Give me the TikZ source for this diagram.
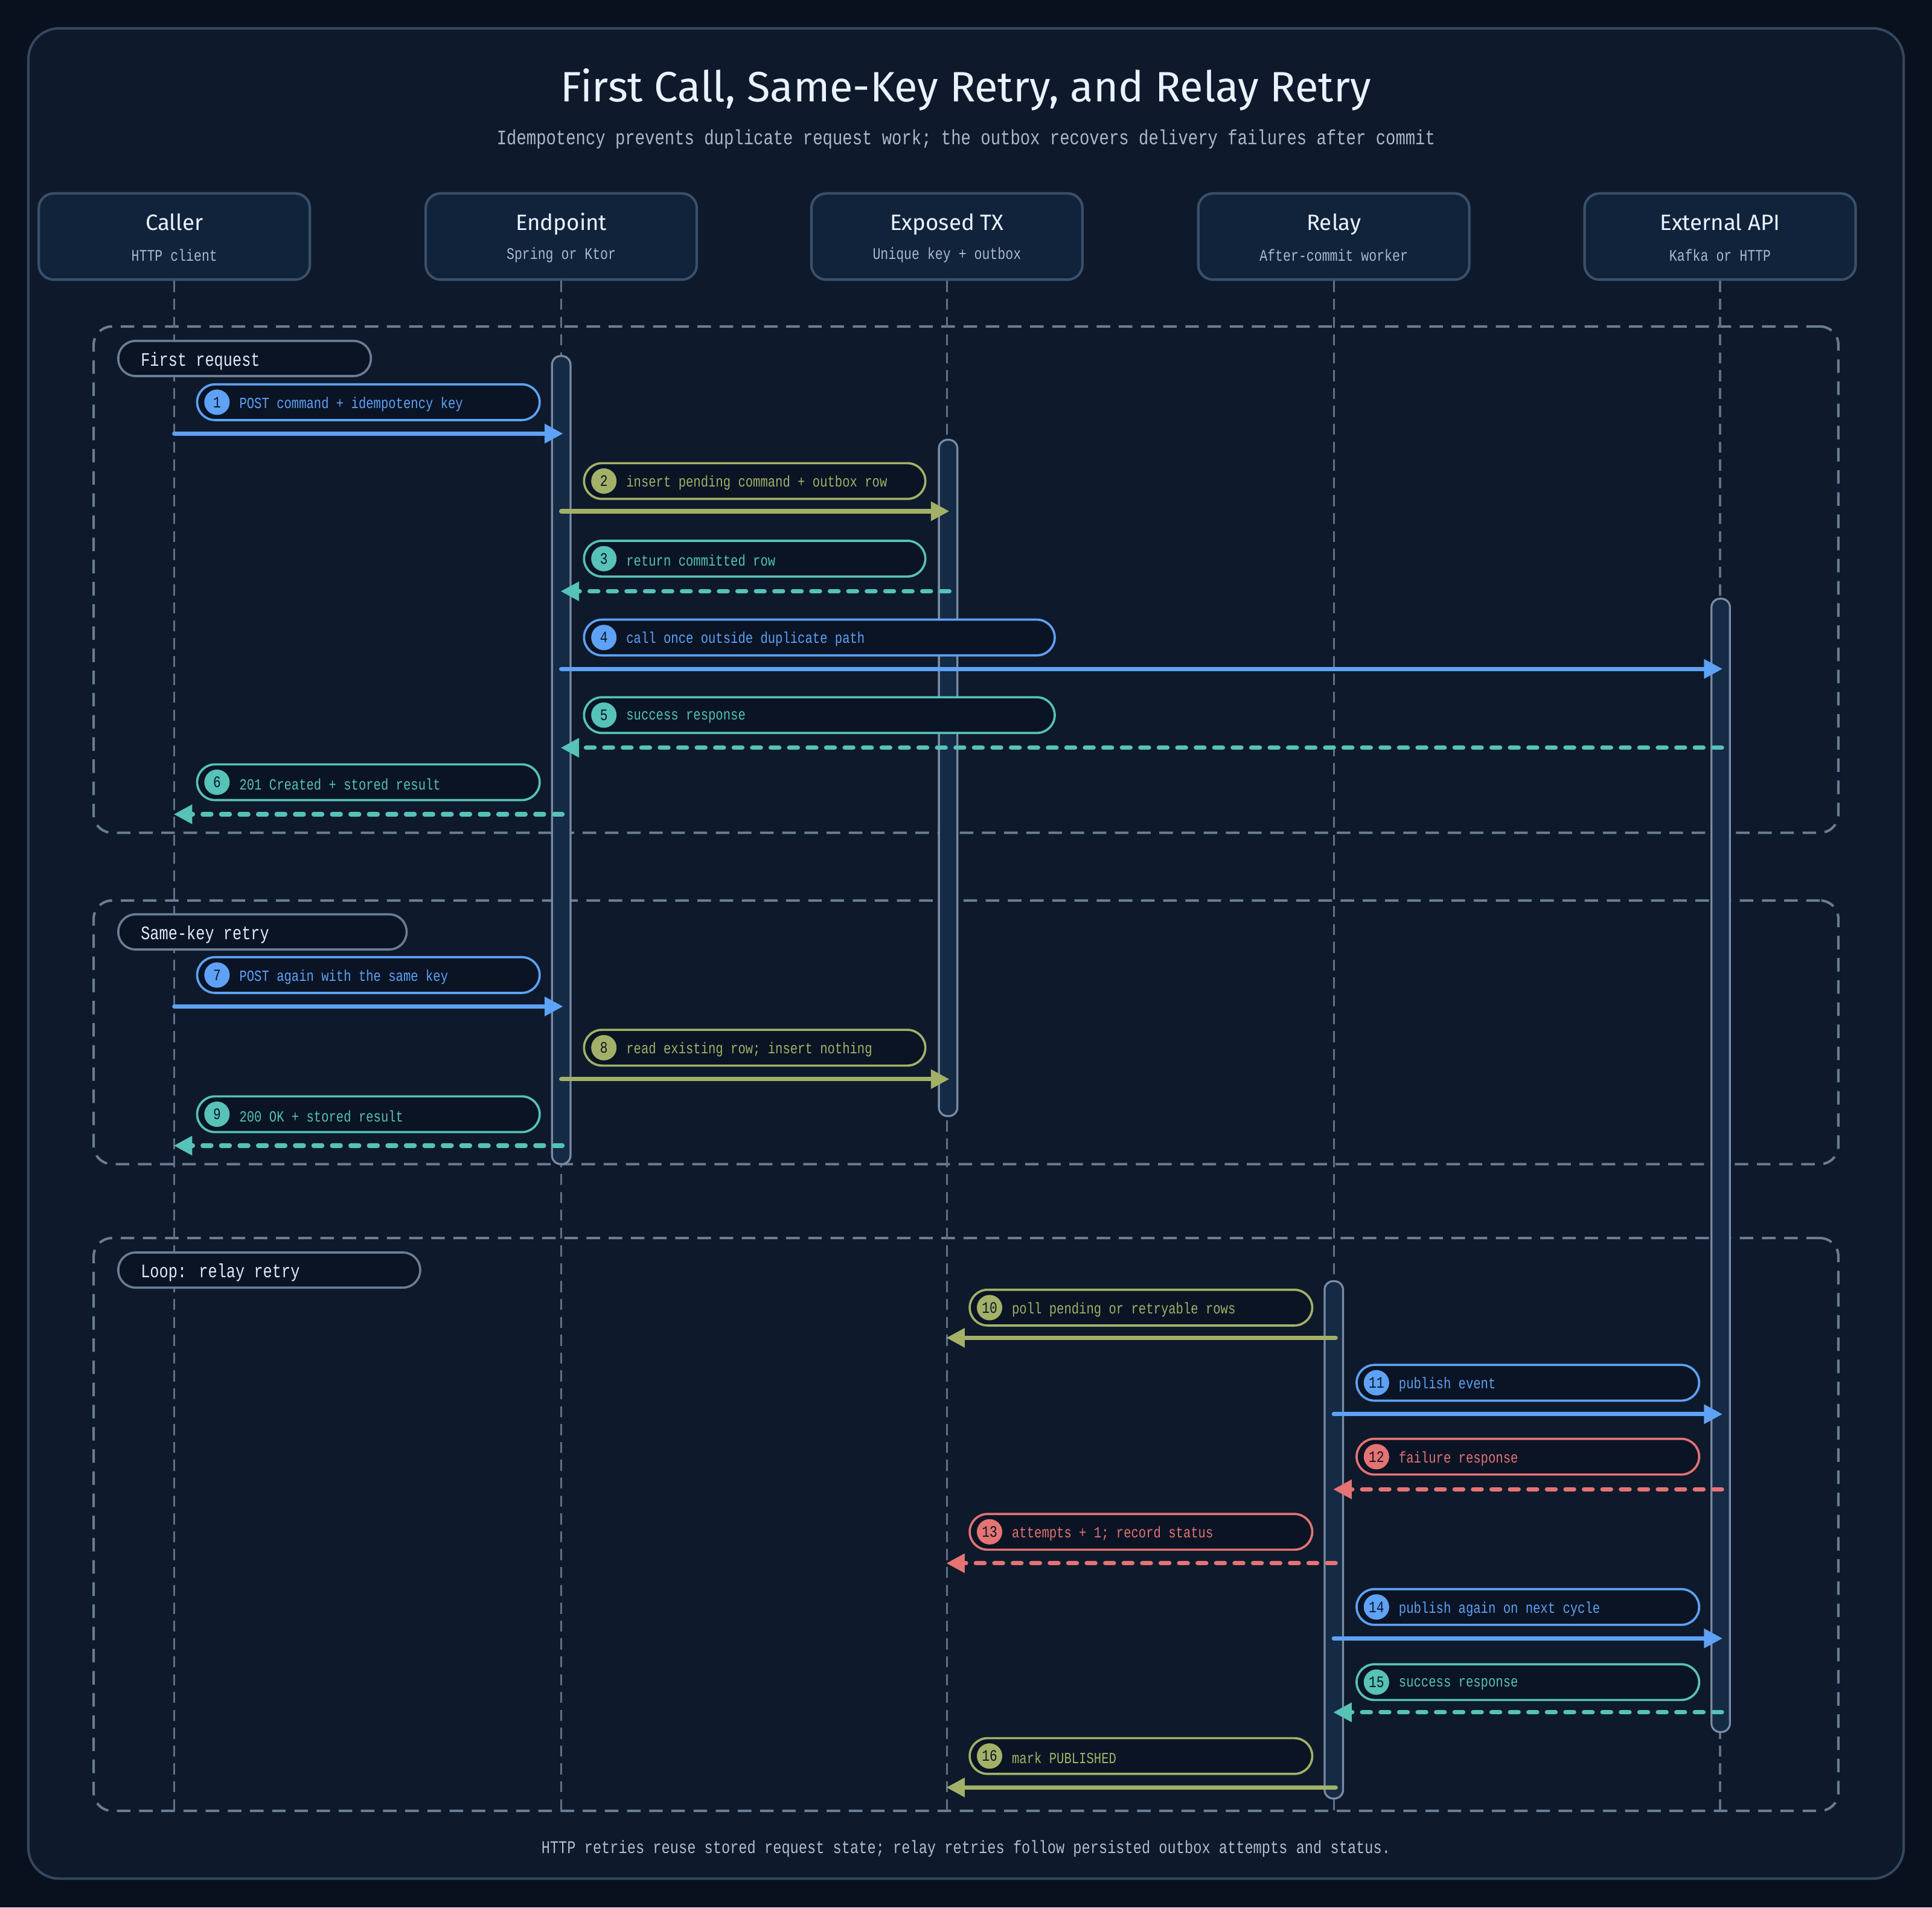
\documentclass[tikz,border=0pt]{standalone}
\usepackage{fontspec}
\setmainfont{Fira Sans}
\newfontfamily\monof{Liberation Mono}[FakeStretch=0.8]
\usetikzlibrary{arrows.meta}
\definecolor{pagebg}{HTML}{09111F}
\definecolor{framefill}{HTML}{0E1A2C}
\definecolor{framestroke}{HTML}{34485F}
\definecolor{partfill}{HTML}{11233A}
\definecolor{partstroke}{HTML}{3A506B}
\definecolor{lifeline}{HTML}{5F7189}
\definecolor{groupline}{HTML}{6A7D94}
\definecolor{pillfill}{HTML}{0A1424}
\definecolor{actfill}{HTML}{142A45}
\definecolor{actstroke}{HTML}{7A8CA3}
\definecolor{cblue}{HTML}{5EA2F7}
\definecolor{colive}{HTML}{A2B167}
\definecolor{cteal}{HTML}{56C2B8}
\definecolor{cred}{HTML}{E57373}
\definecolor{titlecol}{HTML}{EAF2FF}
\definecolor{subcol}{HTML}{A9B8CC}
\definecolor{numcol}{HTML}{0B1526}
\tikzset{
  partbox/.style={draw=partstroke, fill=partfill, line width=2pt, rounded corners=12pt,
    minimum width=220pt, minimum height=70pt, inner sep=0pt},
  partname/.style={text=titlecol, font=\fontsize{18}{20}\selectfont, inner sep=0pt},
  partsub/.style={text=subcol, font=\monof\fontsize{13.2}{15}\selectfont, inner sep=0pt},
  lifel/.style={draw=lifeline, line width=1.6pt, dash pattern=on 9pt off 5.5pt},
  groupbox/.style={draw=groupline, line width=2pt, dash pattern=on 11pt off 7pt, rounded corners=15pt},
  grouplabel/.style={draw=groupline, fill=pillfill, line width=1.8pt, rounded corners=14pt,
    minimum height=28.5pt, inner sep=0pt},
  grouptext/.style={text=titlecol!85!subcol, font=\monof\fontsize{15.5}{17}\selectfont, inner sep=0pt, anchor=west},
  actbar/.style={draw=actstroke, fill=actfill, line width=1.6pt, rounded corners=7pt},
  pill/.style={fill=pillfill, line width=1.8pt, rounded corners=14.5pt, minimum height=29pt, inner sep=0pt},
  numdot/.style={circle, minimum size=20.6pt, inner sep=0pt, text=numcol,
    font=\monof\fontsize{13}{14}\selectfont},
  msgtext/.style={font=\monof\fontsize{12.6}{14}\selectfont, inner sep=0pt, anchor=west},
  solidmsg/.style={line width=3.5pt, line cap=round, -{Triangle[length=15pt,width=15pt]}},
  dashmsg/.style={line width=3.5pt, line cap=round, dash pattern=on 7pt off 8pt, -{Triangle[length=15pt,width=15pt]}},
}
\newcommand{\msglabel}[7]{%
  \node[pill, draw=#5, minimum width=#3pt] (#1) at ({#2+#3/2}, #4) {};
  \node[numdot, fill=#5] (#1n) at ([xshift=17pt]#1.west) {#6};
  \node[msgtext, text=#5] (#1t) at ([xshift=35pt,yshift=-1.5pt]#1.west) {#7};
}
\begin{document}
\begin{tikzpicture}[x=1pt,y=-1pt]
\useasboundingbox (0,0) rectangle (1568,1548.4);
\fill[pagebg] (0,0) rectangle (1568,1548.4);
\node[draw=framestroke, fill=framefill, line width=2pt, rounded corners=25pt,
  minimum width=1522pt, minimum height=1502pt, inner sep=0pt] (frame) at (784,774) {};

% title
\node[text=titlecol, font=\fontsize{34.5}{38}\selectfont, inner sep=0pt] (title) at (784,73)
  {First Call, Same-Key Retry, and Relay Retry};
\node[text=subcol, font=\monof\fontsize{16.7}{19}\selectfont, inner sep=0pt] (subtitle) at (784,113)
  {Idempotency prevents duplicate request work; the outbox recovers delivery failures after commit};

% groups
\node[groupbox, minimum width=1416pt, minimum height=411pt, inner sep=0pt] (g1) at (784,470.5) {};
\node[groupbox, minimum width=1416pt, minimum height=214pt, inner sep=0pt] (g2) at (784,838) {};
\node[groupbox, minimum width=1416pt, minimum height=465pt, inner sep=0pt] (g3) at (784,1237.5) {};

% participants
\foreach \nm/\cx/\ti/\su in {caller/141.5/Caller/HTTP client,
  endpoint/455.5/Endpoint/Spring or Ktor,
  tx/768.5/Exposed TX/Unique key + outbox,
  relay/1082.5/Relay/After-commit worker,
  ext/1396/External API/Kafka or HTTP}{
  \node[partbox] (\nm) at (\cx,192) {};
  \node[partname, anchor=base] (\nm name) at (\cx,187) {\ti};
  \node[partsub] (\nm sub) at (\cx,207) {\su};
  \coordinate (\nm end) at (\cx,1470);
  \draw[lifel] (\nm.south) -- (\nm end);
}

% activation bars
\node[actbar, minimum width=15pt, minimum height=656pt, inner sep=0pt] (actep) at (455.5,617) {};
\node[actbar, minimum width=15pt, minimum height=549pt, inner sep=0pt] (acttx) at (769.5,631.5) {};
\node[actbar, minimum width=15pt, minimum height=920pt, inner sep=0pt] (actext) at (1396.5,946) {};
\node[actbar, minimum width=15pt, minimum height=420pt, inner sep=0pt] (actrelay) at (1082.5,1250) {};

% group labels
\node[grouplabel, minimum width=205pt] (gl1) at (198.5,291) {};
\node[grouptext] (gl1t) at ([xshift=19pt,yshift=-2pt]gl1.west) {First request};
\node[grouplabel, minimum width=234pt] (gl2) at (213,756.5) {};
\node[grouptext] (gl2t) at ([xshift=19pt,yshift=-2pt]gl2.west) {Same-key retry};
\node[grouplabel, minimum width=245pt] (gl3) at (218.5,1031) {};
\node[grouptext] (gl3t) at ([xshift=19pt,yshift=-2pt]gl3.west) {Loop: relay retry};

% message coordinates
\def\xc{141.5}\def\xe{455.5}\def\xt{768.5}\def\xr{1082.5}\def\xa{1396.5}

% 1
\msglabel{m1}{160}{278}{326.5}{cblue}{1}{POST command + idempotency key}
\coordinate (m1s) at (\xc,352); \coordinate (m1e) at (457,352);
\draw[solidmsg, cblue] (m1s) -- (m1e);
% 2
\msglabel{m2}{474}{277}{390.5}{colive}{2}{insert pending command + outbox row}
\coordinate (m2s) at (\xe,415); \coordinate (m2e) at (770.5,415);
\draw[solidmsg, colive] (m2s) -- (m2e);
% 3
\msglabel{m3}{474}{277}{453.5}{cteal}{3}{return committed row}
\coordinate (m3s) at (770.5,480); \coordinate (m3e) at (455,480);
\draw[dashmsg, cteal] (m3s) -- (m3e);
% 4
\msglabel{m4}{474}{382}{517.5}{cblue}{4}{call once outside duplicate path}
\coordinate (m4s) at (\xe,543); \coordinate (m4e) at (1398,543);
\draw[solidmsg, cblue] (m4s) -- (m4e);
% 5
\msglabel{m5}{474}{382}{580.5}{cteal}{5}{success response}
\coordinate (m5s) at (1397.5,607); \coordinate (m5e) at (455,607);
\draw[dashmsg, cteal] (m5s) -- (m5e);
% 6
\msglabel{m6}{160}{278}{635}{cteal}{6}{201 Created + stored result}
\coordinate (m6s) at (456.5,661); \coordinate (m6e) at (141,661);
\draw[dashmsg, cteal] (m6s) -- (m6e);
% 7
\msglabel{m7}{160}{278}{791.5}{cblue}{7}{POST again with the same key}
\coordinate (m7s) at (\xc,817); \coordinate (m7e) at (457,817);
\draw[solidmsg, cblue] (m7s) -- (m7e);
% 8
\msglabel{m8}{474}{277}{850.5}{colive}{8}{read existing row; insert nothing}
\coordinate (m8s) at (\xe,876); \coordinate (m8e) at (770.5,876);
\draw[solidmsg, colive] (m8s) -- (m8e);
% 9
\msglabel{m9}{160}{278}{904.5}{cteal}{9}{200 OK + stored result}
\coordinate (m9s) at (456.5,930); \coordinate (m9e) at (141,930);
\draw[dashmsg, cteal] (m9s) -- (m9e);
% 10
\msglabel{m10}{787}{278}{1061.5}{colive}{10}{poll pending or retryable rows}
\coordinate (m10s) at (1084,1086); \coordinate (m10e) at (768,1086);
\draw[solidmsg, colive] (m10s) -- (m10e);
% 11
\msglabel{m11}{1101}{278}{1122.5}{cblue}{11}{publish event}
\coordinate (m11s) at (\xr,1148); \coordinate (m11e) at (1398,1148);
\draw[solidmsg, cblue] (m11s) -- (m11e);
% 12
\msglabel{m12}{1101}{278}{1182.5}{cred}{12}{failure response}
\coordinate (m12s) at (1397.5,1209); \coordinate (m12e) at (1082,1209);
\draw[dashmsg, cred] (m12s) -- (m12e);
% 13
\msglabel{m13}{787}{278}{1243.5}{cred}{13}{attempts + 1; record status}
\coordinate (m13s) at (1084,1269); \coordinate (m13e) at (768,1269);
\draw[dashmsg, cred] (m13s) -- (m13e);
% 14
\msglabel{m14}{1101}{278}{1304.5}{cblue}{14}{publish again on next cycle}
\coordinate (m14s) at (\xr,1330); \coordinate (m14e) at (1398,1330);
\draw[solidmsg, cblue] (m14s) -- (m14e);
% 15
\msglabel{m15}{1101}{278}{1365.5}{cteal}{15}{success response}
\coordinate (m15s) at (1397.5,1390); \coordinate (m15e) at (1082,1390);
\draw[dashmsg, cteal] (m15s) -- (m15e);
% 16
\msglabel{m16}{787}{278}{1425.5}{colive}{16}{mark PUBLISHED}
\coordinate (m16s) at (1084,1451); \coordinate (m16e) at (768,1451);
\draw[solidmsg, colive] (m16s) -- (m16e);

% footer
\node[text=subcol!90!titlecol, font=\monof\fontsize{14.5}{16}\selectfont, inner sep=0pt] (footer) at (784,1501)
  {HTTP retries reuse stored request state; relay retries follow persisted outbox attempts and status.};
\end{tikzpicture}
\end{document}
